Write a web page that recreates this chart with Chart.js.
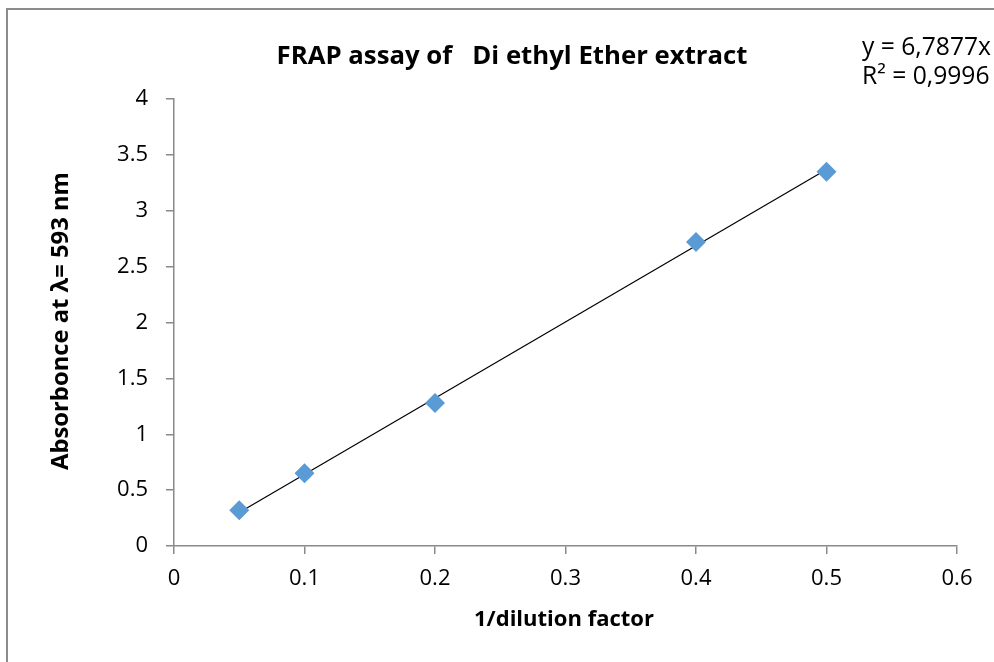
<!DOCTYPE html>
<html>
<head>
<meta charset="utf-8">
<script src="https://cdn.jsdelivr.net/npm/chart.js@4"></script>
<style>
html,body{margin:0;padding:0;background:#fff;}
canvas{display:block;}
</style>
</head>
<body>
<canvas id="c" width="994" height="662"></canvas>
<script>
// ---- data ----
const dilution = [0.05, 0.1, 0.2, 0.4, 0.5];
const absorbance = [0.32, 0.65, 1.28, 2.72, 3.35];
const trendX = [0.05, 0.5];
const trendY = [0.30, 3.37];
const xTickValues = [0, 0.1, 0.2, 0.3, 0.4, 0.5, 0.6];
const xTickLabels = ['0', '0.1', '0.2', '0.3', '0.4', '0.5', '0.6'];
const yTickValues = [0, 0.5, 1, 1.5, 2, 2.5, 3, 3.5, 4];
const yTickLabels = ['0', '0.5', '1', '1.5', '2', '2.5', '3', '3.5', '4'];
const titleText = 'FRAP assay of   Di ethyl Ether extract';
const xTitle = '1/dilution factor';
const yTitle = 'Absorbonce at \u03bb= 593 nm';
const eqLines = ['y = 6,7877x', 'R\u00b2 = 0,9996'];

const FONT = '"Open Sans", sans-serif';
const AXIS = '#898989';

const points = dilution.map((x, i) => ({x: x, y: absorbance[i]}));
const trend = trendX.map((x, i) => ({x: x, y: trendY[i]}));

function fitText(ctx, text, weight, size, width) {
  ctx.font = weight + ' ' + size + 'px ' + FONT;
  const w = ctx.measureText(text).width;
  const s = size * width / w;
  ctx.font = weight + ' ' + s.toFixed(2) + 'px ' + FONT;
}

const decor = {
  id: 'decor',
  beforeDraw(chart) {
    const ctx = chart.ctx;
    ctx.save();
    ctx.fillStyle = '#fff';
    ctx.fillRect(0, 0, chart.width, chart.height);
    ctx.restore();
  },
  afterDraw(chart) {
    const ctx = chart.ctx;
    ctx.save();
    // outer border
    ctx.strokeStyle = '#8c8c8c';
    ctx.lineWidth = 2;
    ctx.strokeRect(7, 9, chart.width + 20, chart.height + 20);
    ctx.fillStyle = '#000';
    ctx.textBaseline = 'middle';
    // title
    fitText(ctx, titleText, 'bold', 22, 471);
    ctx.textAlign = 'center';
    ctx.fillText(titleText, 512, 57);
    // equation
    fitText(ctx, eqLines[0], 'normal', 20, 129);
    ctx.textAlign = 'left';
    ctx.fillText(eqLines[0], 862, 48);
    ctx.fillText(eqLines[1], 862, 77);
    // x title
    fitText(ctx, xTitle, 'bold', 20, 180);
    ctx.textAlign = 'center';
    ctx.fillText(xTitle, 564, 620);
    // y title
    fitText(ctx, yTitle, 'bold', 20, 298);
    ctx.translate(61, 321);
    ctx.rotate(-Math.PI / 2);
    ctx.fillText(yTitle, 0, 0);
    ctx.restore();
  }
};

new Chart(document.getElementById('c'), {
  type: 'scatter',
  data: {
    datasets: [
      {
        label: 'trend',
        data: trend,
        showLine: true,
        borderColor: '#000',
        borderWidth: 1.2,
        pointRadius: 0,
        fill: false,
        order: 2
      },
      {
        label: 'FRAP',
        data: points,
        pointStyle: 'rectRot',
        pointRadius: 10,
        pointHoverRadius: 10,
        backgroundColor: '#5b9bd5',
        borderColor: '#5b9bd5',
        borderWidth: 0,
        order: 1
      }
    ]
  },
  options: {
    responsive: false,
    animation: false,
    devicePixelRatio: 1,
    layout: {padding: {left: 0, right: 37, top: 99, bottom: 0}},
    plugins: {
      legend: {display: false},
      title: {display: false},
      tooltip: {enabled: false}
    },
    scales: {
      x: {
        type: 'linear',
        min: 0, max: 0.6,
        afterFit(s) { s.height = 116; },
        afterBuildTicks(s) { s.ticks = xTickValues.map(v => ({value: v})); },
        ticks: {
          callback: (v) => xTickLabels[xTickValues.indexOf(v)] ?? '',
          color: '#000',
          font: {family: FONT, size: 22},
          padding: 12,
          maxRotation: 0
        },
        grid: {display: true, drawOnChartArea: false, drawTicks: true, tickLength: 8, color: AXIS, lineWidth: 1.5},
        border: {display: true, color: AXIS, width: 1.5}
      },
      y: {
        type: 'linear',
        min: 0, max: 4,
        afterFit(s) { s.width = 174; },
        afterBuildTicks(s) { s.ticks = yTickValues.map(v => ({value: v})); },
        ticks: {
          callback: (v) => yTickLabels[yTickValues.indexOf(v)] ?? '',
          color: '#000',
          font: {family: FONT, size: 22},
          padding: 18
        },
        grid: {display: true, drawOnChartArea: false, drawTicks: true, tickLength: 8, color: AXIS, lineWidth: 1.5},
        border: {display: true, color: AXIS, width: 1.5}
      }
    }
  },
  plugins: [decor]
});
</script>
</body>
</html>
